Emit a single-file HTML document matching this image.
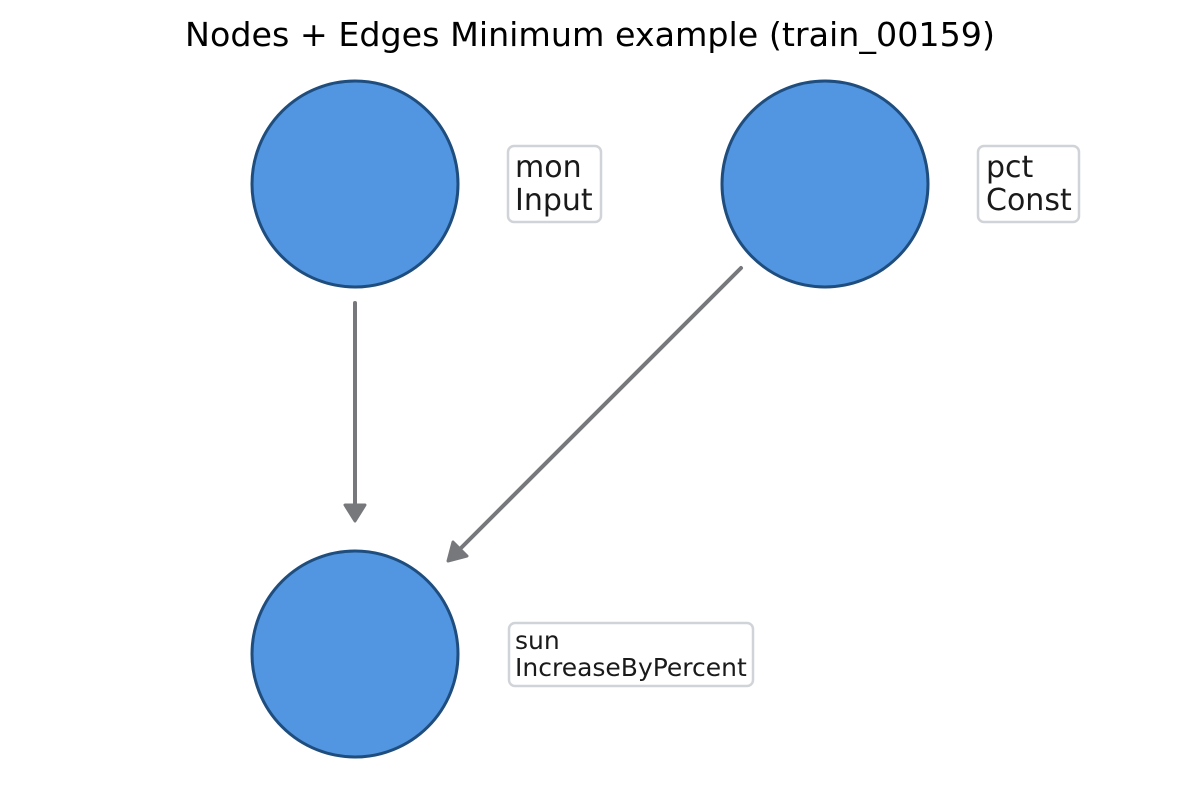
<!DOCTYPE html>
<html><head><style>body{margin:0;background:#fff}svg{display:block}</style></head><body>
<svg width="1180" height="797" viewBox="0 0 1180 797" xmlns="http://www.w3.org/2000/svg" font-family="DejaVu Sans, Liberation Sans, sans-serif">
<text x="590" y="46" text-anchor="middle" font-size="33.3" fill="#000">Nodes + Edges Minimum example (train_00159)</text>
<g fill="#5296e2" stroke="#1f4e7e" stroke-width="3">
<circle cx="355" cy="184" r="103"/>
<circle cx="825" cy="184" r="103"/>
<circle cx="355" cy="654" r="103"/>
</g>
<g stroke="#76787b" stroke-width="4" stroke-linecap="round" fill="none">
<line x1="355" y1="303" x2="355" y2="518"/>
<line x1="741" y1="268" x2="452" y2="557"/>
</g>
<g fill="#76787b" stroke="#76787b" stroke-width="3" stroke-linejoin="round">
<polygon points="345,505 365,505 355,521"/>
<polygon points="448,561 453,542 467,556"/>
</g>
<g fill="#fff" stroke="#d0d3d8" stroke-width="2.5">
<rect x="508" y="146" width="93" height="76" rx="6"/>
<rect x="978" y="146" width="101" height="76" rx="6"/>
<rect x="509" y="623" width="244" height="63" rx="6"/>
</g>
<g fill="#1a1a1a" font-size="30">
<text x="515" y="177">mon</text><text x="515" y="210">Input</text>
<text x="986" y="177">pct</text><text x="986" y="210">Const</text>
</g>
<g fill="#1a1a1a" font-size="25">
<text x="515" y="649">sun</text><text x="515" y="676">IncreaseByPercent</text>
</g>
</svg>
</body></html>
